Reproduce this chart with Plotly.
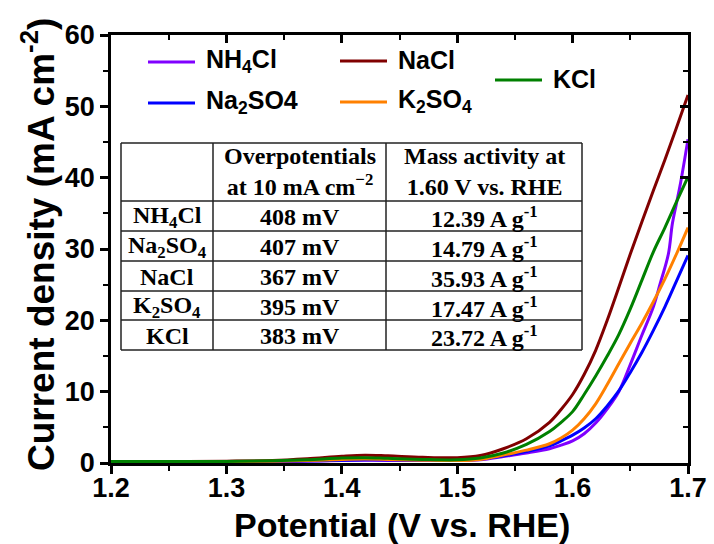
import plotly.graph_objects as go

# ---- LSV data (potential in V vs. RHE, current density in mA cm^-2) ----
potential = [1.20, 1.25, 1.30, 1.34, 1.37, 1.40, 1.42, 1.44, 1.47, 1.50, 1.52,
             1.54, 1.56, 1.58, 1.59, 1.60, 1.61, 1.62, 1.63, 1.64, 1.65, 1.66,
             1.67, 1.68, 1.69, 1.70]

j_nacl = [0.2, 0.2, 0.25, 0.35, 0.6, 0.95, 1.1, 1.0, 0.8, 0.75, 1.05,
          2.0, 3.4, 5.7, 7.5, 9.6, 12.4, 15.8, 20.0, 24.6, 29.3, 33.8,
          38.2, 42.5, 47.0, 51.6]
j_kcl = [0.2, 0.2, 0.22, 0.3, 0.45, 0.7, 0.75, 0.65, 0.5, 0.45, 0.7,
         1.4, 2.6, 4.4, 5.7, 7.2, 9.6, 12.2, 15.0, 18.0, 21.6, 25.6,
         29.6, 33.0, 36.6, 40.1]
j_k2so4 = [0.2, 0.2, 0.2, 0.25, 0.35, 0.5, 0.55, 0.5, 0.4, 0.35, 0.5,
           1.1, 1.8, 2.7, 3.5, 4.6, 6.2, 8.3, 11.0, 13.9, 16.8, 19.6,
           22.6, 25.8, 29.3, 33.0]
j_na2so4 = [0.2, 0.2, 0.2, 0.25, 0.3, 0.4, 0.45, 0.45, 0.4, 0.4, 0.55,
            1.0, 1.6, 2.4, 3.1, 3.9, 4.9, 6.2, 8.0, 10.1, 12.7, 15.5,
            18.6, 21.9, 25.5, 29.1]

potential_nh4cl = [1.20, 1.25, 1.30, 1.34, 1.37, 1.40, 1.42, 1.44, 1.47, 1.50,
                   1.52, 1.54, 1.56, 1.58, 1.59, 1.60, 1.61, 1.62, 1.63, 1.64,
                   1.65, 1.66, 1.67, 1.676, 1.683, 1.6864, 1.69, 1.6937, 1.70]
j_nh4cl = [0.2, 0.2, 0.2, 0.2, 0.25, 0.35, 0.38, 0.36, 0.35, 0.35,
           0.45, 0.9, 1.4, 2.0, 2.5, 3.1, 4.1, 5.6, 7.6, 10.0,
           13.8, 17.9, 21.9, 25.2, 29.3, 33.5, 36.4, 39.4, 45.4]

# legend / drawing order
names = ["NH<sub>4</sub>Cl", "Na<sub>2</sub>SO4", "NaCl", "K<sub>2</sub>SO<sub>4</sub>", "KCl"]
colors = ["#8000FF", "#0000FF", "#800000", "#FF8000", "#008000"]
xs = [potential_nh4cl, potential, potential, potential, potential]
ys = [j_nh4cl, j_na2so4, j_nacl, j_k2so4, j_kcl]

# ---- inset table ----
tbl_header = ["", "Overpotentials<br>at 10 mA cm<sup>\u22122</sup>",
              "Mass activity at<br>1.60 V vs. RHE"]
tbl_electrolyte = ["NH<sub>4</sub>Cl", "Na<sub>2</sub>SO<sub>4</sub>", "NaCl",
                   "K<sub>2</sub>SO<sub>4</sub>", "KCl"]
tbl_overpotential = ["408 mV", "407 mV", "367 mV", "395 mV", "383 mV"]
tbl_mass_activity = ["12.39 A g<sup>-1</sup>", "14.79 A g<sup>-1</sup>",
                     "35.93 A g<sup>-1</sup>", "17.47 A g<sup>-1</sup>",
                     "23.72 A g<sup>-1</sup>"]

# ---- page geometry (pixels) ----
W_PX, H_PX = 714, 544
L, R, T, B = 111, 688, 35, 463
PW, PH = R - L, B - T


def fx(p):
    return (p - L) / PW


def fy(p):
    return (B - p) / PH


SANS = "Liberation Sans, Arial, sans-serif"
SERIF = "Liberation Serif, Times New Roman, serif"

fig = go.Figure()
for x, y, c in zip(xs, ys, colors):
    fig.add_trace(go.Scatter(x=x, y=y, mode="lines", showlegend=False,
                             line=dict(color=c, width=3, shape="spline", smoothing=1.0)))
# carrier for the mirrored (inside-tick) top/right axes
fig.add_trace(go.Scatter(x=[], y=[], xaxis="x2", yaxis="y2", showlegend=False))

shapes = []
annotations = []

# ---- legend drawn as short line samples + labels ----
legend_pos = [(148, 62), (148, 103), (340, 61), (340, 102), (495, 80)]
for (lx, ly), name, c in zip(legend_pos, names, colors):
    shapes.append(dict(type="line", xref="paper", yref="paper",
                       x0=fx(lx), x1=fx(lx + 47), y0=fy(ly), y1=fy(ly),
                       line=dict(color=c, width=3)))
    annotations.append(dict(text="<b>%s</b>" % name, xref="paper", yref="paper",
                            x=fx(lx + 56), y=fy(ly - 1), xanchor="left", yanchor="middle",
                            showarrow=False, font=dict(family=SANS, size=25, color="black")))

# ---- table grid ----
col_x = [121, 213, 386, 582]
row_y = [143, 201, 231, 261, 291, 320, 350]
tline = dict(color="#222222", width=1.5)
for cx in col_x:
    shapes.append(dict(type="line", xref="paper", yref="paper",
                       x0=fx(cx), x1=fx(cx), y0=fy(row_y[0]), y1=fy(row_y[-1]), line=tline))
for ry in row_y:
    shapes.append(dict(type="line", xref="paper", yref="paper",
                       x0=fx(col_x[0]), x1=fx(col_x[-1]), y0=fy(ry), y1=fy(ry), line=tline))

col_cx = [(col_x[i] + col_x[i + 1]) / 2 for i in range(3)]
tfont = dict(family=SERIF, size=24, color="black")
for i, htxt in enumerate(tbl_header):
    if htxt:
        annotations.append(dict(text="<b>%s</b>" % htxt, xref="paper", yref="paper",
                                x=fx(col_cx[i]), y=fy((row_y[0] + row_y[1]) / 2),
                                xanchor="center", yanchor="middle", showarrow=False,
                                font=tfont))
for r, cells in enumerate(zip(tbl_electrolyte, tbl_overpotential, tbl_mass_activity)):
    cy = (row_y[r + 1] + row_y[r + 2]) / 2
    for i, txt in enumerate(cells):
        annotations.append(dict(text="<b>%s</b>" % txt, xref="paper", yref="paper",
                                x=fx(col_cx[i]), y=fy(cy + 1), xanchor="center",
                                yanchor="middle", showarrow=False, font=tfont))

# ---- axis titles ----
annotations.append(dict(text="<b>Potential (V vs. RHE)</b>", xref="paper", yref="paper",
                        x=fx(402), y=fy(525), xanchor="center", yanchor="middle",
                        showarrow=False, font=dict(family=SANS, size=34, color="black")))
annotations.append(dict(text="<b>Current density (mA cm<sup>-2</sup>)</b>", xref="paper",
                        yref="paper", x=fx(38), y=fy(245), xanchor="center",
                        yanchor="middle", textangle=-90, showarrow=False,
                        font=dict(family=SANS, size=37, color="black")))

tickfont = dict(family=SANS, size=27, color="black", weight="bold")
axis_common = dict(showline=True, linecolor="black", linewidth=2.5, showgrid=False,
                   zeroline=False, tickcolor="black", tickwidth=2.5, ticklen=8,
                   automargin=False)

fig.update_layout(
    width=W_PX, height=H_PX,
    margin=dict(l=L, r=W_PX - R, t=T, b=H_PX - B, pad=0),
    paper_bgcolor="white", plot_bgcolor="white",
    showlegend=False,
    xaxis=dict(range=[1.2, 1.7], dtick=0.1, tick0=1.2, tickformat=".1f", ticks="outside",
               tickfont=tickfont, ticklabelstandoff=-9,
               minor=dict(dtick=0.05, ticks="outside", ticklen=5, tickwidth=2, tickcolor="black"),
               **axis_common),
    yaxis=dict(range=[0, 60], dtick=10, tick0=0, ticks="outside", tickfont=tickfont,
               minor=dict(dtick=5, ticks="outside", ticklen=5, tickwidth=2, tickcolor="black"),
               **axis_common),
    xaxis2=dict(range=[1.2, 1.7], dtick=0.1, tick0=1.2, ticks="inside", side="top",
                overlaying="x", anchor="y2", showticklabels=False,
                minor=dict(dtick=0.05, ticks="inside", ticklen=5, tickwidth=2, tickcolor="black"),
                **axis_common),
    yaxis2=dict(range=[0, 60], dtick=10, tick0=0, ticks="inside", side="right",
                overlaying="y", anchor="x2", showticklabels=False,
                minor=dict(dtick=5, ticks="inside", ticklen=5, tickwidth=2, tickcolor="black"),
                **axis_common),
    shapes=shapes,
    annotations=annotations,
)

fig.write_html("out.html")
